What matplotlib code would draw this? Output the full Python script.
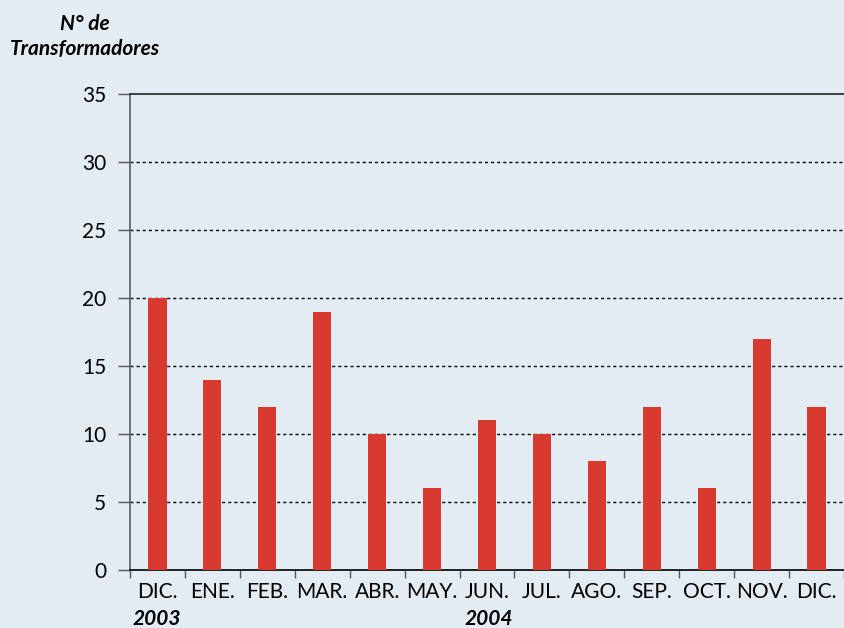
import matplotlib.pyplot as plt
import numpy as np

# Data
months = ['DIC.', 'ENE.', 'FEB.', 'MAR.', 'ABR.', 'MAY.', 'JUN.',
          'JUL.', 'AGO.', 'SEP.', 'OCT.', 'NOV.', 'DIC.']
transformers = [20, 14, 12, 19, 10, 6, 11, 10, 8, 12, 6, 17, 12]
y_ticks = [0, 5, 10, 15, 20, 25, 30, 35]

bg = '#e3ebf3'
bar_color = '#d93a30'
plt.rcParams['font.family'] = ['Lato', 'DejaVu Sans']

fig = plt.figure(figsize=(8.44, 6.28), dpi=100, facecolor=bg)
ax = fig.add_axes([0.154, 0.0924, 0.846, 0.758], facecolor=bg)

x = np.arange(len(months))
ax.bar(x, transformers, width=0.33, color=bar_color, zorder=3)

ax.set_xlim(-0.5, 12.45)
ax.set_ylim(0, 35)

# dotted grid lines
for v in y_ticks[1:-1]:
    ax.axhline(v, color='black', linestyle=(0, (2.2, 2.2)), linewidth=1.0, zorder=1)

ax.set_yticks(y_ticks)
ax.set_yticklabels([str(v) for v in y_ticks], fontsize=15)
ax.tick_params(axis='y', length=9, width=1, color='#555555', pad=8)

ax.set_xticks(x)
ax.set_xticklabels(months, fontsize=15)
ax.set_xticks(np.arange(-0.5, 13, 1), minor=True)
ax.tick_params(axis='x', which='major', length=0, pad=9)
ax.tick_params(axis='x', which='minor', length=6, width=1, color='#555555')

ax.spines['right'].set_visible(False)
ax.spines['top'].set_color('#333333')
ax.spines['top'].set_linewidth(1.3)
ax.spines['left'].set_color('#666666')
ax.spines['left'].set_linewidth(1.3)
ax.spines['bottom'].set_color('#111111')
ax.spines['bottom'].set_linewidth(1.3)

# axis title
fig.text(85 / 844, 0.962, 'N° de', ha='center', va='center', fontsize=15,
         fontweight='bold', fontstyle='italic')
fig.text(85 / 844, 0.922, 'Transformadores', ha='center', va='center', fontsize=15,
         fontweight='bold', fontstyle='italic')

# year labels
fig.text(157 / 844, 1 - 619 / 628, '2003', ha='center', va='center', fontsize=15,
         fontweight='bold', fontstyle='italic')
fig.text(489 / 844, 1 - 619 / 628, '2004', ha='center', va='center', fontsize=15,
         fontweight='bold', fontstyle='italic')

fig.savefig('out.png', dpi=100, facecolor=bg)
